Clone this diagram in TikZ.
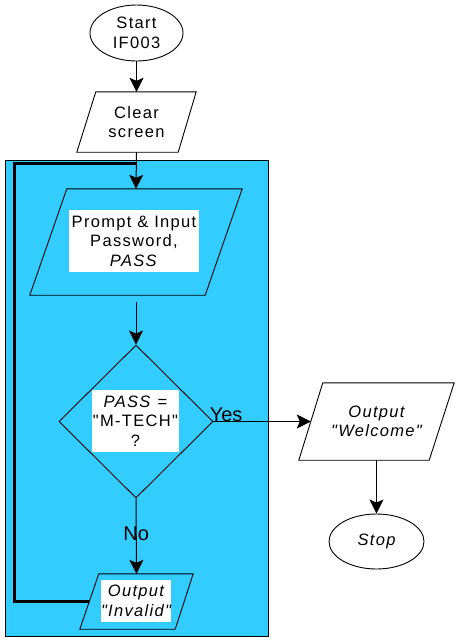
\documentclass[tikz,border=0pt]{standalone}
\usepackage{fontspec}
\setmainfont{Liberation Sans}[LetterSpace=8, Ligatures=TeXOff]
\newfontfamily\labelfont{Liberation Sans}
\usetikzlibrary{shapes.geometric,arrows.meta}
\definecolor{panelblue}{RGB}{51,204,255}
\begin{document}
\begin{tikzpicture}[x=1pt,y=-1pt,
  every node/.style={font=\fontsize{16.5}{19.5}\selectfont, align=center, inner sep=0pt},
  frame/.style={rectangle, minimum width=#1},
  outline/.style={draw=black, line width=0.9pt},
  txtbox/.style={fill=white, rectangle},
  arr/.style={line width=1pt, -{Stealth[length=14pt,width=14pt,inset=3pt]}},
  loopline/.style={line width=3pt},
  lbl/.style={font=\labelfont\fontsize{20}{22}\selectfont}
]
\useasboundingbox (0,0) rectangle (458,641);
% blue panel
\filldraw[fill=panelblue, line width=1pt] (5,160) rectangle (268,636);

% start
\node[ellipse, outline, fill=white, minimum width=93pt, minimum height=56pt] (start) at (136.5,33) {Start\\IF003};

% clear screen
\node[frame=119pt, minimum height=60pt] (clr) at (136.5,122) {Clear\\screen};
\draw[outline] ([xshift=19pt]clr.north west) -- (clr.north east) -- ([xshift=-18pt]clr.south east) -- (clr.south west) -- cycle;

% prompt
\node[frame=212pt, minimum height=106pt] (prm) at (136,242) {};
\draw[outline] ([xshift=37pt]prm.north west) -- (prm.north east) -- ([xshift=-37pt]prm.south east) -- (prm.south west) -- cycle;
\node[txtbox, minimum width=130pt, minimum height=62pt] (prmtxt) at (134,241) {Prompt \& Input\\Password,\\\textit{PASS}};

% decision
\node[diamond, outline, minimum width=154pt, minimum height=153pt] (dia) at (136,421.5) {};
\node[txtbox, minimum width=87pt, minimum height=62pt] (diatxt) at (135.5,421) {\textit{PASS} =\\"M-TECH"\\?};

% invalid
\node[frame=113pt, minimum height=55pt] (inv) at (136.5,601.5) {};
\draw[outline] ([xshift=19pt]inv.north west) -- (inv.north east) -- ([xshift=-18pt]inv.south east) -- (inv.south west) -- cycle;
\node[txtbox, minimum width=70pt, minimum height=42pt, font=\fontsize{16.5}{19.5}\selectfont\itshape] (invtxt) at (136,601) {Output\\"Invalid"};

% welcome
\node[frame=155pt, minimum height=77pt, font=\fontsize{16.5}{19.5}\selectfont\itshape] (wel) at (376.5,421.5) {Output\\"Welcome"};
\draw[outline] ([xshift=24pt]wel.north west) -- (wel.north east) -- ([xshift=-25pt]wel.south east) -- (wel.south west) -- cycle;

% stop
\node[ellipse, outline, minimum width=95pt, minimum height=55pt, font=\fontsize{16.5}{19.5}\selectfont\itshape] (stop) at (376.5,541.5) {Stop};

% connectors
\coordinate (welin) at ([xshift=12pt]wel.west);
\coordinate (invout) at ([xshift=9.5pt]inv.west);
\coordinate (loopcorner) at (14,163);
\draw[arr] (start.south) -- (clr.north);
\draw[loopline] (invout) -| (loopcorner) -- (clr.south |- loopcorner);
\draw[arr] (clr.south) -- (prm.north);
\draw[arr, shorten <=7pt] (prm.south) -- (dia.north);
\draw[arr] (dia.east) -- node[pos=0.13, anchor=south, lbl, yshift=-1pt] (yes) {Yes} (welin);
\draw[arr] (dia.south) -- node[pos=0.47, lbl] (no) {No} (inv.north);
\draw[arr] (wel.south) -- (stop.north);
\end{tikzpicture}
\end{document}
